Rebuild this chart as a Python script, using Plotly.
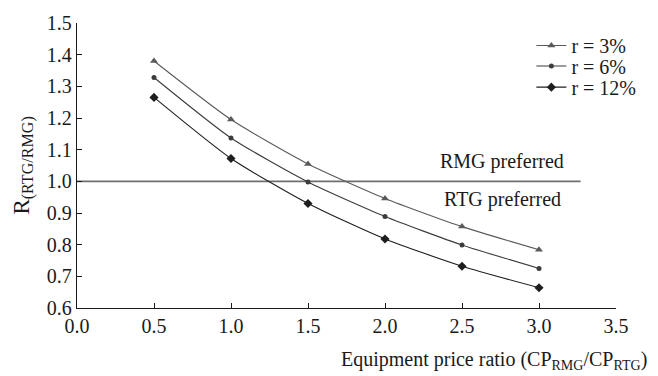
import plotly.graph_objects as go

# Equipment price ratio (CP_RMG / CP_RTG)
price_ratio = [0.5, 1.0, 1.5, 2.0, 2.5, 3.0]

# Cost ratio R(RTG/RMG) for each discount rate
r_3 = [1.38, 1.195, 1.055, 0.946, 0.857, 0.784]
r_6 = [1.328, 1.137, 0.998, 0.889, 0.799, 0.725]
r_12 = [1.265, 1.072, 0.93, 0.818, 0.732, 0.664]

series_names = ["r = 3%", "r = 6%", "r = 12%"]
series_values = [r_3, r_6, r_12]
series_symbols = ["triangle-up", "circle", "diamond"]
series_colors = ["#5a5a5a", "#3c3c3c", "#1e1e1e"]

# Break-even level and its horizontal extent
break_even = 1.0
break_even_x = [0.0, 3.27]

FONT = "Liberation Serif"
FS = 20

fig = go.Figure()

fig.add_trace(go.Scatter(
    x=break_even_x, y=[break_even, break_even], mode="lines",
    line=dict(color="#6e6e6e", width=1.6), showlegend=False, hoverinfo="skip",
))

legend_ids = ["legend", "legend2", "legend3"]
for name, vals, sym, col, lg in zip(series_names, series_values, series_symbols,
                                    series_colors, legend_ids):
    fig.add_trace(go.Scatter(
        x=price_ratio, y=vals, name=name, mode="lines+markers", legend=lg,
        line=dict(color=col, width=1.1, shape="spline", smoothing=0.6),
        marker=dict(symbol=sym, size=7 if sym != "circle" else 5, color=col),
    ))

# one legend box per row so the rows sit at a tight spacing
legend_rows = [0.921, 0.849, 0.775]
legend_style = dict(x=0.843, xanchor="left", yanchor="middle",
                    bgcolor="rgba(0,0,0,0)", font=dict(family=FONT, size=FS),
                    itemwidth=30)

fig.update_layout(
    width=658, height=376,
    margin=dict(l=77, r=42, t=16, b=68),
    paper_bgcolor="white", plot_bgcolor="white",
    font=dict(family=FONT, size=FS, color="#1a1a1a"),
    showlegend=True,
    legend=dict(y=legend_rows[0], **legend_style),
    legend2=dict(y=legend_rows[1], **legend_style),
    legend3=dict(y=legend_rows[2], **legend_style),
    xaxis=dict(
        range=[0, 3.5], tickvals=[0, 0.5, 1.0, 1.5, 2.0, 2.5, 3.0, 3.5],
        ticktext=["0.0", "0.5", "1.0", "1.5", "2.0", "2.5", "3.0", "3.5"],
        showgrid=False, zeroline=False, showline=True, linecolor="#1a1a1a", linewidth=1.3,
        ticks="inside", ticklen=5, tickcolor="#1a1a1a", tickfont=dict(size=FS),
    ),
    yaxis=dict(
        range=[0.6, 1.5], tickvals=[0.6, 0.7, 0.8, 0.9, 1.0, 1.1, 1.2, 1.3, 1.4, 1.5],
        ticktext=["0.6", "0.7", "0.8", "0.9", "1.0", "1.1", "1.2", "1.3", "1.4", "1.5"],
        showgrid=False, zeroline=False, showline=True, linecolor="#1a1a1a", linewidth=1.3,
        ticks="inside", ticklen=5, tickcolor="#1a1a1a", tickfont=dict(size=FS),
    ),
    annotations=[
        dict(text="RMG preferred", x=2.76, y=1.062, xref="x", yref="y",
             showarrow=False, font=dict(family=FONT, size=FS)),
        dict(text="RTG preferred", x=2.76, y=0.942, xref="x", yref="y",
             showarrow=False, font=dict(family=FONT, size=FS)),
        dict(text="R<sub>(RTG/RMG)</sub>", textangle=-90, x=-0.1, y=0.5,
             xref="paper", yref="paper", xanchor="center", yanchor="middle",
             showarrow=False, font=dict(family=FONT, size=23)),
        dict(text="Equipment price ratio (CP<sub>RMG</sub>/CP<sub>RTG</sub>)",
             x=1.062, y=-0.185, xref="paper", yref="paper", xanchor="right", yanchor="middle",
             showarrow=False, font=dict(family=FONT, size=FS)),
    ],
)

fig.write_html("out.html")
